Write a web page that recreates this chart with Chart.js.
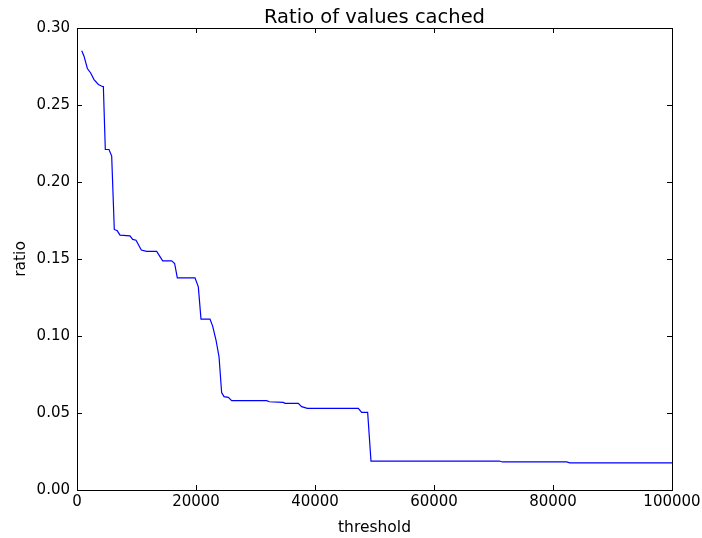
<!DOCTYPE html>
<html>
<head>
<meta charset="utf-8">
<script src="https://cdn.jsdelivr.net/npm/chart.js@4/dist/chart.umd.min.js"></script>
<style>
  html, body { margin: 0; padding: 0; background: #fff; }
  #wrap { width: 702px; height: 538px; }
</style>
</head>
<body>
<div id="wrap"><canvas id="chart" width="702" height="538"></canvas></div>
<script>
const thresholds = [800, 1180, 1740, 2300, 2860, 3590, 4260, 4430, 4760, 5380, 5830, 6270, 6770, 7230, 8900, 9360, 9920, 10810, 11710, 13390, 14400, 15910, 16410, 16860, 19830, 20390, 20840, 22350, 22800, 23360, 23870, 24310, 24710, 25430, 26000, 31880, 32320, 34670, 34960, 37190, 37760, 38710, 47280, 47840, 48850, 49410, 71000, 71500, 82300, 82800, 100000];
const ratios = [0.2852, 0.2817, 0.2737, 0.2708, 0.2665, 0.2633, 0.2620, 0.2620, 0.2211, 0.2211, 0.2168, 0.1692, 0.1683, 0.1655, 0.1650, 0.1627, 0.1622, 0.1558, 0.1549, 0.1549, 0.1488, 0.1488, 0.1471, 0.1378, 0.1378, 0.1319, 0.1110, 0.1110, 0.1064, 0.0974, 0.0865, 0.0632, 0.0606, 0.0602, 0.0580, 0.0580, 0.0573, 0.0569, 0.0563, 0.0563, 0.0541, 0.0530, 0.0530, 0.0504, 0.0504, 0.0188, 0.0188, 0.0182, 0.0182, 0.0176, 0.0176];
const xTicks = [0, 20000, 40000, 60000, 80000, 100000];
const yTicks = [0, 0.05, 0.10, 0.15, 0.20, 0.25, 0.30];

const FONT = 'DejaVu Sans';

// matplotlib-style frame, inward ticks on all sides, title and axis labels
const framePlugin = {
  id: 'frame',
  afterDraw(chart) {
    const ctx = chart.ctx;
    const a = chart.chartArea;
    const xs = chart.scales.x, ys = chart.scales.y;
    const tl = 5;
    ctx.save();
    ctx.strokeStyle = '#000';
    ctx.lineWidth = 1;
    ctx.strokeRect(Math.round(a.left) + 0.5, Math.round(a.top) + 0.5, Math.round(a.right - a.left), Math.round(a.bottom - a.top));
    ctx.beginPath();
    xTicks.forEach(v => {
      const px = Math.round(xs.getPixelForValue(v)) + 0.5;
      ctx.moveTo(px, a.bottom); ctx.lineTo(px, a.bottom - tl);
      ctx.moveTo(px, a.top); ctx.lineTo(px, a.top + tl);
    });
    yTicks.forEach(v => {
      const py = Math.round(ys.getPixelForValue(v)) + 0.5;
      ctx.moveTo(a.left, py); ctx.lineTo(a.left + tl, py);
      ctx.moveTo(a.right, py); ctx.lineTo(a.right - tl, py);
    });
    ctx.stroke();

    ctx.fillStyle = '#000';
    ctx.textAlign = 'center';
    ctx.textBaseline = 'alphabetic';
    ctx.font = '19.5px "' + FONT + '"';
    ctx.fillText('Ratio of values cached', (a.left + a.right) / 2, 23);
    ctx.font = '15.5px "' + FONT + '"';
    ctx.fillText('threshold', (a.left + a.right) / 2, 532);
    ctx.translate(25, (a.top + a.bottom) / 2);
    ctx.rotate(-Math.PI / 2);
    ctx.fillText('ratio', 0, 0);
    ctx.restore();
  }
};

new Chart(document.getElementById('chart'), {
  type: 'line',
  data: {
    datasets: [{
      data: thresholds.map((t, i) => ({ x: t, y: ratios[i] })),
      borderColor: '#0000ff',
      borderWidth: 1.2,
      pointRadius: 0,
      tension: 0,
      fill: false
    }]
  },
  options: {
    responsive: false,
    animation: false,
    layout: { padding: { top: 28, right: 30, left: 0, bottom: 0 } },
    plugins: { legend: { display: false }, title: { display: false }, tooltip: { enabled: false } },
    scales: {
      x: {
        type: 'linear',
        min: 0, max: 100000,
        afterBuildTicks: s => { s.ticks = xTicks.map(v => ({ value: v })); },
        afterFit: s => { s.height = 48; s.paddingLeft = 0; s.paddingRight = 0; },
        grid: { display: false, drawTicks: false },
        border: { display: false },
        ticks: {
          color: '#000', padding: 3, maxRotation: 0,
          font: { family: FONT, size: 15 },
          callback: v => String(v)
        }
      },
      y: {
        min: 0, max: 0.3,
        afterBuildTicks: s => { s.ticks = yTicks.map(v => ({ value: v })); },
        afterFit: s => { s.width = 77; },
        grid: { display: false, drawTicks: false },
        border: { display: false },
        ticks: {
          color: '#000', padding: 7,
          font: { family: FONT, size: 15 },
          callback: v => Number(v).toFixed(2)
        }
      }
    }
  },
  plugins: [framePlugin]
});
</script>
</body>
</html>
